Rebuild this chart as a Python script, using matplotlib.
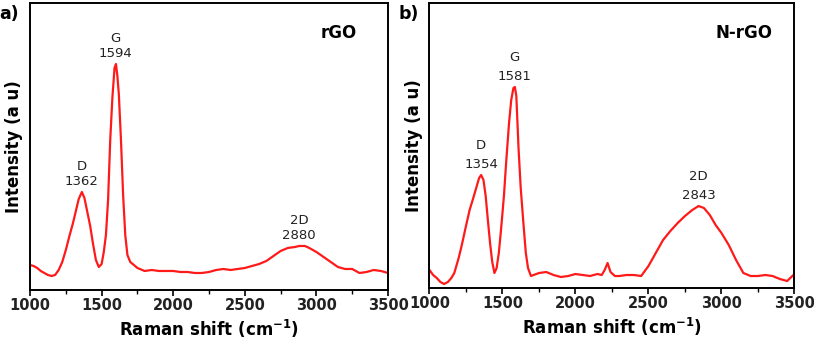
import matplotlib.pyplot as plt

# Raman spectra (arbitrary units), read at selected shifts
shift_rgo = [1000, 1025, 1050, 1075, 1100, 1125, 1150, 1175, 1200, 1225, 1250, 1275, 1300,
             1320, 1340, 1362, 1380, 1400, 1420, 1440, 1460, 1480, 1500, 1515, 1530, 1545,
             1560, 1575, 1590, 1600, 1610, 1620, 1635, 1650, 1665, 1680, 1700, 1750, 1800, 1850,
             1900, 1950, 2000, 2050, 2100, 2150, 2200, 2250, 2300, 2350, 2400, 2450, 2500,
             2550, 2600, 2650, 2700, 2750, 2800, 2850, 2880, 2920, 2950, 3000, 3050, 3100,
             3150, 3200, 3250, 3300, 3350, 3400, 3450, 3500]
int_rgo = [25, 24, 22, 19, 17, 15, 14, 15, 20, 28, 40, 54, 67,
           79, 91, 98, 92, 78, 64, 46, 30, 23, 26, 38, 55, 90,
           150, 192, 222, 226, 214, 196, 150, 95, 55, 35, 28, 22, 19, 20,
           19, 19, 19, 18, 18, 17, 17, 18, 20, 21, 20, 21, 22,
           24, 26, 29, 34, 39, 42, 43, 44, 44, 42, 38, 33, 28,
           23, 21, 21, 17, 18, 20, 19, 17]

shift_nrgo = [1000, 1025, 1050, 1075, 1100, 1126, 1150, 1170, 1200, 1220, 1250, 1275, 1300,
              1320, 1340, 1354, 1370, 1385, 1400, 1415, 1430, 1445, 1460, 1475, 1490, 1510,
              1525, 1545, 1560, 1575, 1585, 1595, 1610, 1625, 1645, 1660, 1675, 1695, 1750, 1800,
              1850, 1900, 1950, 2000, 2050, 2100, 2150, 2180, 2200, 2220, 2240, 2270, 2300,
              2350, 2400, 2450, 2500, 2550, 2600, 2650, 2700, 2750, 2800, 2843, 2880, 2920,
              2960, 3000, 3050, 3100, 3150, 3200, 3250, 3300, 3350, 3400, 3450, 3500]
int_nrgo = [18, 13, 10, 6, 4, 6, 10, 15, 30, 42, 62, 78, 90,
            100, 110, 113, 108, 92, 68, 45, 26, 15, 20, 35, 58, 92,
            125, 165, 188, 200, 201, 192, 140, 100, 62, 35, 20, 12, 15, 16,
            13, 11, 12, 14, 13, 12, 14, 13, 18, 25, 16, 12, 12,
            13, 13, 12, 22, 35, 48, 57, 65, 72, 78, 82, 80, 73,
            63, 55, 43, 28, 15, 12, 12, 13, 12, 9, 7, 14]

panels = [
    ("a)", "rGO", shift_rgo, int_rgo,
     [("D", 1362, 98), ("G", 1594, 226), ("2D", 2880, 44)], 287, 1.15),
    ("b)", "N-rGO", shift_nrgo, int_nrgo,
     [("D", 1354, 113), ("G", 1581, 201), ("2D", 2843, 82)], 285, 1.6),
]

fig = plt.figure(figsize=(8.14, 3.47), dpi=100)
boxes = [[0.0369, 0.1643, 0.4398, 0.8271], [0.5276, 0.1700, 0.4484, 0.8214]]

for box, (tag, name, x, y, peaks, ytop, lsp) in zip(boxes, panels):
    ax = fig.add_axes(box)
    ax.plot(x, y, color='#ff1a1a', lw=1.6)
    ax.set_xlim(1000, 3500)
    ax.set_ylim(0, ytop)
    ax.set_yticks([])
    ax.set_xticks(range(1000, 3501, 500))
    ax.set_xticks(range(1250, 3500, 500), minor=True)
    ax.tick_params(axis='x', which='major', direction='out', length=4, width=1.2,
                   labelsize=10.5, pad=1.5)
    ax.tick_params(axis='x', which='minor', direction='out', length=3, width=1.0)
    for lab in ax.get_xticklabels():
        lab.set_fontweight('bold')
        lab.set_color('#222222')
    for sp in ax.spines.values():
        sp.set_linewidth(1.4)
    ax.set_xlabel(r'Raman shift (cm$^{\mathbf{-1}}$)', fontsize=12, fontweight='bold', labelpad=4)
    ax.set_ylabel('Intensity (a u)', fontsize=12, fontweight='bold', labelpad=5)

    for pname, px, py in peaks:
        ax.annotate(f"{pname}\n{px}", xy=(px, py), xytext=(0, 3),
                    textcoords='offset points', ha='center', va='bottom',
                    fontsize=9.5, color='#222222', linespacing=lsp)

    ax.text(0.862, 0.895, name, transform=ax.transAxes, ha='center', va='center',
            fontsize=12, fontweight='bold')
    ax.text(-0.085, 0.96, tag, transform=ax.transAxes, ha='left', va='center',
            fontsize=12.5, fontweight='bold')

fig.savefig('out.png', dpi=100)
